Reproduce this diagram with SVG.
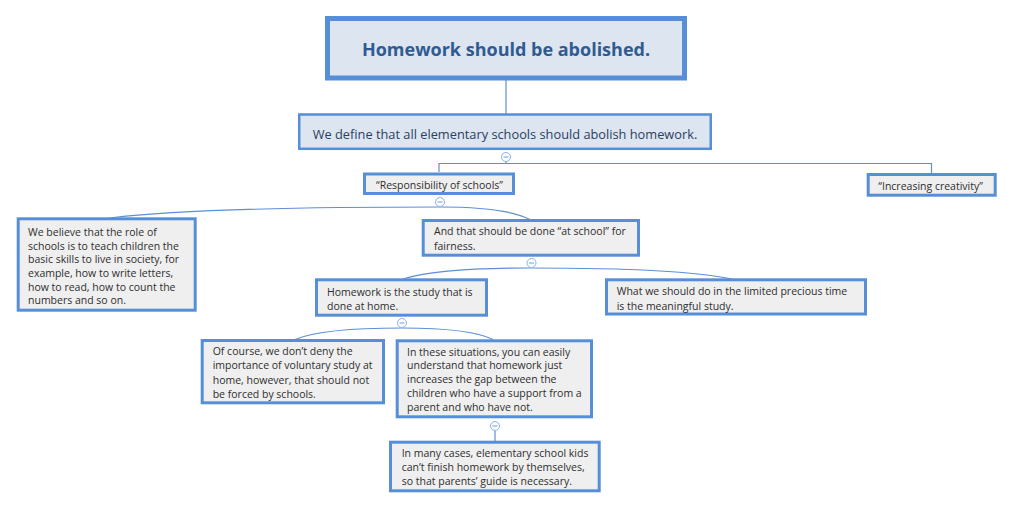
<svg xmlns="http://www.w3.org/2000/svg" width="1013" height="509" viewBox="0 0 1013 509">
<style>
.box{fill:#efefef;stroke:#568fd8;stroke-width:3}
.t{font-family:"Open Sans","DejaVu Sans",sans-serif;font-size:10.5px;fill:#2e2e2e}
.con{fill:none;stroke:#5c8fd6;stroke-width:1.2}
.col circle{fill:#fff;stroke:#8cb0e8;stroke-width:1}
.col line{stroke:#6f9ae0;stroke-width:1}
</style>
<rect width="1013" height="509" fill="#fff"/>
<g id="connectors">
<line class="con" x1="506" y1="80" x2="506" y2="114"/>
<path class="con" d="M506 162 V163.5 M439 172 V163.5 H931.5 V173"/>
<path class="con" d="M440 207 Q200 207 110 218"/>
<path class="con" d="M440 207 Q506 207 530 219.5"/>
<path class="con" d="M531.5 268 Q438 268 403 279"/>
<path class="con" d="M531.5 268 Q680 268 732 279"/>
<path class="con" d="M402 328 Q322 328 295 339.5"/>
<path class="con" d="M402 328 Q470 328 493 339.5"/>
<line class="con" x1="495" y1="431" x2="495" y2="441"/>
</g>
<g class="col">
<circle cx="506" cy="157" r="4.5"/><line x1="503.5" y1="157" x2="508.5" y2="157"/>
<circle cx="440" cy="202" r="4.5"/><line x1="437.5" y1="202" x2="442.5" y2="202"/>
<circle cx="531.5" cy="263" r="4.5"/><line x1="529" y1="263" x2="534" y2="263"/>
<circle cx="402" cy="323" r="4.5"/><line x1="399.5" y1="323" x2="404.5" y2="323"/>
<circle cx="495" cy="426" r="4.5"/><line x1="492.5" y1="426" x2="497.5" y2="426"/>
</g>
<g id="root">
<rect x="327.5" y="18.5" width="357" height="59.5" fill="#dde5f1" stroke="#568fd8" stroke-width="5"/>
<text x="506" y="55.5" text-anchor="middle" font-family="'Open Sans','DejaVu Sans',sans-serif" font-size="18" font-weight="bold" fill="#2f5b92">Homework should be abolished.</text>
</g>
<g id="definition">
<rect x="299.25" y="114.5" width="411.5" height="34.3" fill="#dde5f1" stroke="#568fd8" stroke-width="2.5"/>
<text x="505" y="138.5" text-anchor="middle" font-family="'Open Sans','DejaVu Sans',sans-serif" font-size="12.8" fill="#2b3f5e">We define that all elementary schools should abolish homework.</text>
</g>
<g id="responsibility">
<rect class="box" x="364.5" y="174" width="149" height="19.5"/>
<text class="t" x="376" y="188.8">“Responsibility of schools”</text>
</g>
<g id="creativity">
<rect class="box" x="868.2" y="174.5" width="127" height="20.7"/>
<text class="t" x="878.3" y="189.5">“Increasing creativity”</text>
</g>
<g id="role">
<rect class="box" x="18.2" y="218.8" width="177" height="91.4"/>
<text class="t" x="28" y="235.8">We believe that the role of</text>
<text class="t" x="28" y="249.5">schools is to teach children the</text>
<text class="t" x="28" y="263.2">basic skills to live in society, for</text>
<text class="t" x="28" y="276.9">example, how to write letters,</text>
<text class="t" x="28" y="290.6">how to read, how to count the</text>
<text class="t" x="28" y="304.3">numbers and so on.</text>
</g>
<g id="atschool">
<rect class="box" x="423.2" y="220.5" width="215.3" height="34.7"/>
<text class="t" x="434" y="234.8">And that should be done “at school” for</text>
<text class="t" x="434" y="249.5">fairness.</text>
</g>
<g id="homestudy">
<rect class="box" x="316.5" y="279.8" width="170" height="35.4"/>
<text class="t" x="327" y="295.5">Homework is the study that is</text>
<text class="t" x="327" y="309.5">done at home.</text>
</g>
<g id="meaningful">
<rect class="box" x="606.5" y="279.8" width="259" height="34.2"/>
<text class="t" x="616.7" y="294.8">What we should do in the limited precious time</text>
<text class="t" x="616.7" y="309.5">is the meaningful study.</text>
</g>
<g id="voluntary">
<rect class="box" x="202.2" y="340.5" width="181.3" height="62.3"/>
<text class="t" x="212.7" y="354.8">Of course, we don’t deny the</text>
<text class="t" x="212.7" y="369.3">importance of voluntary study at</text>
<text class="t" x="212.7" y="383.6">home, however, that should not</text>
<text class="t" x="212.7" y="397.8">be forced by schools.</text>
</g>
<g id="gap">
<rect class="box" x="397.2" y="340.8" width="194.3" height="76"/>
<text class="t" x="407" y="355.5">In these situations, you can easily</text>
<text class="t" x="407" y="369.2">understand that homework just</text>
<text class="t" x="407" y="383.1">increases the gap between the</text>
<text class="t" x="407" y="397.1">children who have a support from a</text>
<text class="t" x="407" y="411.1">parent and who have not.</text>
</g>
<g id="parents">
<rect class="box" x="390.5" y="442.2" width="208.7" height="48.6"/>
<text class="t" x="401.7" y="457">In many cases, elementary school kids</text>
<text class="t" x="401.7" y="470.5">can’t finish homework by themselves,</text>
<text class="t" x="401.7" y="484.8">so that parents’ guide is necessary.</text>
</g>
</svg>
